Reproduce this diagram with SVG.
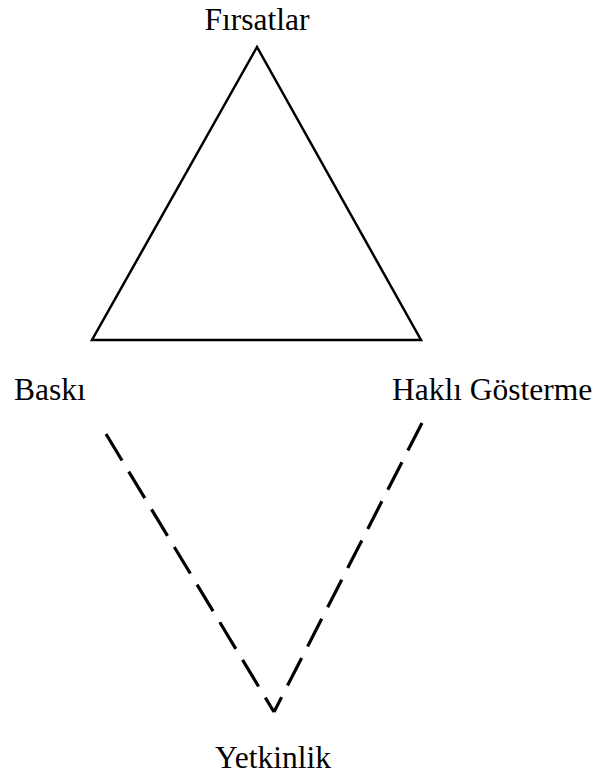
<svg xmlns="http://www.w3.org/2000/svg" width="598" height="778" viewBox="0 0 598 778">
<style>
.lbl{font-family:"Liberation Serif","Times New Roman",serif;font-size:31.5px;fill:#000}
.tri{fill:none;stroke:#000;stroke-width:2.5;stroke-linejoin:miter}
.dash{fill:none;stroke:#000;stroke-width:3.2;stroke-dasharray:31 13}
</style>
<rect width="598" height="778" fill="#fff"/>
<g id="triangle"><polygon class="tri" points="257,47 92,340 421,340"/></g>
<g id="node-firsatlar"><text class="lbl" x="257" y="30" text-anchor="middle">Fırsatlar</text></g>
<g id="node-baski"><text class="lbl" x="14" y="400">Baskı</text></g>
<g id="node-hakli"><text class="lbl" x="392" y="400">Haklı Gösterme</text></g>
<g id="node-yetkinlik"><text class="lbl" x="273" y="768" text-anchor="middle">Yetkinlik</text></g>
<g id="connectors">
<path class="dash" d="M106,434 L274,712"/>
<path class="dash" d="M422,423 L274,712"/>
</g>
</svg>
